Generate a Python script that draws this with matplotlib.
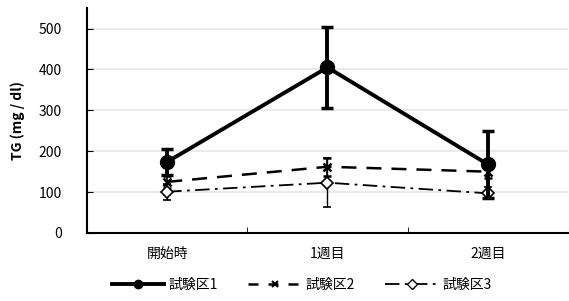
import numpy as np
import matplotlib.pyplot as plt
from matplotlib.lines import Line2D

plt.rcParams['font.family'] = ['Noto Sans CJK JP', 'DejaVu Sans']

categories = ['開始時', '1週目', '2週目']
labels = ['試験区1', '試験区2', '試験区3']
s1 = [174, 405, 168]
e1 = [31, 100, 82]
s2 = [125, 162, 150]
e2 = [15, 22, 15]
s3 = [101, 123, 97]
e3 = [20, 60, 15]

x = np.arange(len(categories))

fig = plt.figure(figsize=(5.69, 3.01), dpi=100)
ax = fig.add_axes([0.153, 0.226, 0.845, 0.747])

ax.errorbar(x, s1, yerr=e1, color='black', linewidth=2.8, marker='o',
            markersize=10, capsize=4, elinewidth=2.8, capthick=2.5, zorder=4)
ax.errorbar(x, s2, yerr=e2, color='black', linewidth=1.8, linestyle=(0, (6, 4)),
            marker='x', markersize=6, mew=1.8, capsize=3, elinewidth=1.2, zorder=3)
ax.errorbar(x, s3, yerr=e3, color='black', linewidth=1.3, linestyle=(0, (8, 3, 1.5, 3)),
            marker='D', markersize=6, mfc='white', mew=1.2, capsize=3, elinewidth=1.0,
            zorder=3)

ax.set_xlim(-0.5, 2.5)
ax.set_ylim(0, 550)
ax.set_yticks([0, 100, 200, 300, 400, 500])
ax.set_xticks(x)
ax.set_xticklabels(categories, fontsize=10)
ax.set_xticks([0.5, 1.5], minor=True)
ax.tick_params(axis='x', which='major', length=0, pad=10)
ax.tick_params(axis='x', which='minor', length=4, direction='in')
ax.tick_params(axis='y', length=4, direction='in', labelsize=10, pad=18)
ax.yaxis.grid(True, color='#e6e6e6', linewidth=1.2)
ax.set_axisbelow(True)
ax.spines['top'].set_visible(False)
ax.spines['right'].set_visible(False)
ax.spines['left'].set_linewidth(1.5)
ax.spines['bottom'].set_linewidth(1.5)
ax.set_ylabel('TG (mg / dl)', fontsize=10, fontweight='bold', labelpad=10)

handles = [
    Line2D([], [], color='black', linewidth=2.8, marker='o', markersize=6),
    Line2D([], [], color='black', linewidth=1.8, linestyle=(0, (4, 4)),
           marker='x', markersize=5, mew=1.5),
    Line2D([], [], color='black', linewidth=1.3, linestyle=(0, (8, 3, 1.5, 3)),
           marker='D', markersize=5, mfc='white', mew=1.0),
]
fig.legend(handles, labels, loc='lower center', bbox_to_anchor=(0.53, -0.01),
           ncol=3, frameon=False, fontsize=10, handlelength=3.8,
           columnspacing=2.2, handletextpad=0.3)

fig.savefig('out.png', dpi=100)
